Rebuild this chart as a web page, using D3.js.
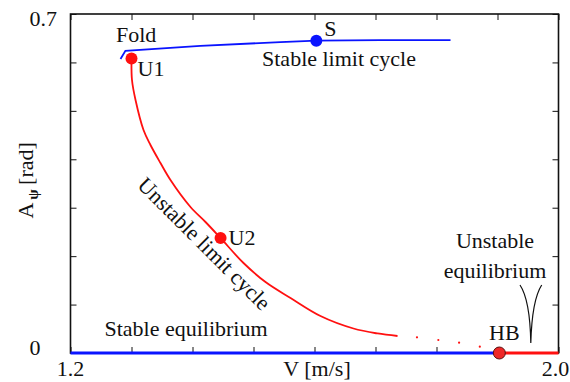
<!DOCTYPE html>
<html>
<head>
<meta charset="utf-8">
<script src="https://cdn.jsdelivr.net/npm/d3@7"></script>
<style>
  @font-face { font-family: "ChartSerif"; src: local("Liberation Serif"), local("LiberationSerif"), local("Liberation Serif Regular"), local("LiberationSerif-Regular"); }
</style>
</head>
<body style="margin:0">
<svg id="chart" width="570" height="382" style="font-family: ChartSerif, 'Liberation Serif'"></svg>
<script>
// ---------- data ----------
const xTicks = [1.2, 1.3, 1.4, 1.5, 1.6, 1.7, 1.8, 1.9, 2.0];
const yTicks = [0, 0.1, 0.2, 0.3, 0.4, 0.5, 0.6, 0.7];
const xTickLabels = ["1.2", "2.0"];
const yTickLabels = ["0", "0.7"];

// stable equilibrium (A = 0) up to Hopf point, unstable beyond
const stableEqV = [1.2, 1.903];
const stableEqA = [0, 0];
const unstableEqV = [1.903, 2.0];
const unstableEqA = [0, 0];

// stable limit cycle branch (blue)
const stableLCV = [1.282, 1.290, 1.413, 1.544, 1.603, 1.708, 1.823];
const stableLCA = [0.607, 0.624, 0.634, 0.642, 0.645, 0.646, 0.646];

// unstable limit cycle branch (red, solid part)
const unstableLCV = [1.300, 1.3008, 1.3066, 1.3197, 1.3311, 1.3475, 1.3639, 1.3967, 1.4213, 1.4459, 1.4836, 1.5197, 1.5607, 1.6098, 1.6639, 1.7033, 1.7361];
const unstableLCA = [0.608, 0.5637, 0.5224, 0.4605, 0.4295, 0.3923, 0.3572, 0.3015, 0.2705, 0.2375, 0.1858, 0.1466, 0.1136, 0.0764, 0.0506, 0.0403, 0.0351];

// unstable limit cycle, sparse dotted continuation
const unstableDotsV = [1.768, 1.803, 1.837, 1.871];
const unstableDotsA = [0.0324, 0.0268, 0.0213, 0.0130];

// labelled points
const pointNames = ["U1", "U2", "S", "HB"];
const pointV = [1.300, 1.446, 1.603, 1.903];
const pointA = [0.608, 0.2375, 0.645, 0];

// ---------- layout ----------
const svg = d3.select("#chart");
const FONT = '"Liberation Serif"';
const L = 70.5, R = 558.5, T = 14, B = 353;
const x = d3.scaleLinear().domain([1.2, 2.0]).range([L, R]);
const y = d3.scaleLinear().domain([0, 0.7]).range([B, T]);
const BLUE = "#0a14ff", RED = "#ff1010";
const FS = 22;

const zip = (a, b) => a.map((v, i) => [v, b[i]]);
const line = d3.line().x(d => x(d[0])).y(d => y(d[1]));
const smooth = d3.line().x(d => x(d[0])).y(d => y(d[1])).curve(d3.curveCatmullRom.alpha(0.5));

// frame & ticks (inward, on all four sides)
const noLab = () => "";
const axG = [
  [d3.axisBottom(x).tickValues(xTicks), `translate(0,${B})`],
  [d3.axisTop(x).tickValues(xTicks), `translate(0,${T})`],
  [d3.axisLeft(y).tickValues(yTicks), `translate(${L},0)`],
  [d3.axisRight(y).tickValues(yTicks), `translate(${R},0)`]
];
axG.forEach(([ax, tr]) => {
  const g = svg.append("g").attr("transform", tr).call(ax.tickSize(-6).tickFormat(noLab));
  g.attr("font-family", null).attr("font-size", null);
  g.select(".domain").remove();
  g.selectAll(".tick text").remove();
  g.selectAll(".tick line").attr("stroke", "#111").attr("stroke-width", 1);
});
svg.append("rect").attr("x", L).attr("y", T).attr("width", R - L).attr("height", B - T)
  .attr("fill", "none").attr("stroke", "#111").attr("stroke-width", 1.6);

// curves
svg.append("path").datum(zip(stableEqV, stableEqA)).attr("d", line)
  .attr("fill", "none").attr("stroke", BLUE).attr("stroke-width", 3.2);
svg.append("path").datum(zip(unstableEqV, unstableEqA)).attr("d", line)
  .attr("fill", "none").attr("stroke", RED).attr("stroke-width", 3.2);
svg.append("path").datum(zip(stableLCV, stableLCA)).attr("d", line)
  .attr("fill", "none").attr("stroke", BLUE).attr("stroke-width", 1.8);
svg.append("path").datum(zip(unstableLCV, unstableLCA)).attr("d", smooth)
  .attr("fill", "none").attr("stroke", RED).attr("stroke-width", 1.8);
svg.selectAll(".dot").data(zip(unstableDotsV, unstableDotsA)).join("circle")
  .attr("cx", d => x(d[0])).attr("cy", d => y(d[1])).attr("r", 1.1).attr("fill", RED);

// special points
const pts = pointNames.map((n, i) => ({ n, v: pointV[i], a: pointA[i] }));
svg.selectAll(".pt").data(pts).join("circle")
  .attr("cx", d => x(d.v)).attr("cy", d => y(d.a)).attr("r", 6)
  .attr("fill", d => d.n === "S" ? BLUE : (d.n === "HB" ? "#ee2828" : RED))
  .attr("stroke", d => d.n === "HB" ? "#5a1010" : "none").attr("stroke-width", 1);

// brace-like pointer
svg.append("path").attr("d", "M520,285 Q530,300 530.8,343 Q532,300 541.7,285")
  .attr("fill", "none").attr("stroke", "#111").attr("stroke-width", 1.2);

// ---------- texts ----------
const labels = [
  [xTickLabels[0], x(1.2), 376, "middle"],
  [xTickLabels[1], x(2.0) - 3, 376, "middle"],
  [yTickLabels[0], 29.5, y(0) + 2, "start"],
  [yTickLabels[1], 29.5, y(0.7) + 12, "start"],
  ["V [m/s]", 317, 376, "middle"],
  ["U1", x(pointV[0]) + 6, y(pointA[0]) + 17, "start"],
  ["U2", x(pointV[1]) + 8, y(pointA[1]) + 7, "start"],
  ["S", x(pointV[2]) + 8, y(pointA[2]) - 5, "start"],
  ["HB", x(pointV[3]) + 5, y(pointA[3]) - 13, "middle"],
  ["Fold", 116, 42, "start"],
  ["Stable limit cycle", 339, 66, "middle"],
  ["Stable equilibrium", 186, 336, "middle"],
  ["Unstable", 495, 248, "middle"],
  ["equilibrium", 495, 278, "middle"]
];
svg.selectAll(".lbl").data(labels).join("text")
  .attr("x", d => d[1]).attr("y", d => d[2]).attr("text-anchor", d => d[3])
  .attr("font-size", FS).style("font-family", FONT).attr("fill", "#111")
  .text(d => d[0]);

svg.selectAll(".rot").data(["Unstable limit cycle"]).join("text")
  .attr("transform", "translate(199,249) rotate(45)")
  .attr("text-anchor", "middle").attr("font-size", FS).style("font-family", FONT)
  .attr("fill", "#111").text(d => d);

// y-axis title: "A", subscript psi, "[rad]"
const yc = (T + B) / 2;
svg.append("text").attr("transform", `translate(33,${yc + 27}) rotate(-90)`)
  .attr("text-anchor", "middle").attr("font-size", FS).style("font-family", FONT)
  .attr("fill", "#111").text("A");
svg.append("text").attr("transform", `translate(38,${yc + 11}) rotate(-90)`)
  .attr("text-anchor", "middle").attr("font-size", 15).attr("font-weight", "bold")
  .style("font-family", FONT).attr("fill", "#111").text("ψ");
svg.append("text").attr("transform", `translate(33,${yc - 20}) rotate(-90)`)
  .attr("text-anchor", "middle").attr("font-size", FS).style("font-family", FONT)
  .attr("fill", "#111").text("[rad]");
</script>
</body>
</html>
